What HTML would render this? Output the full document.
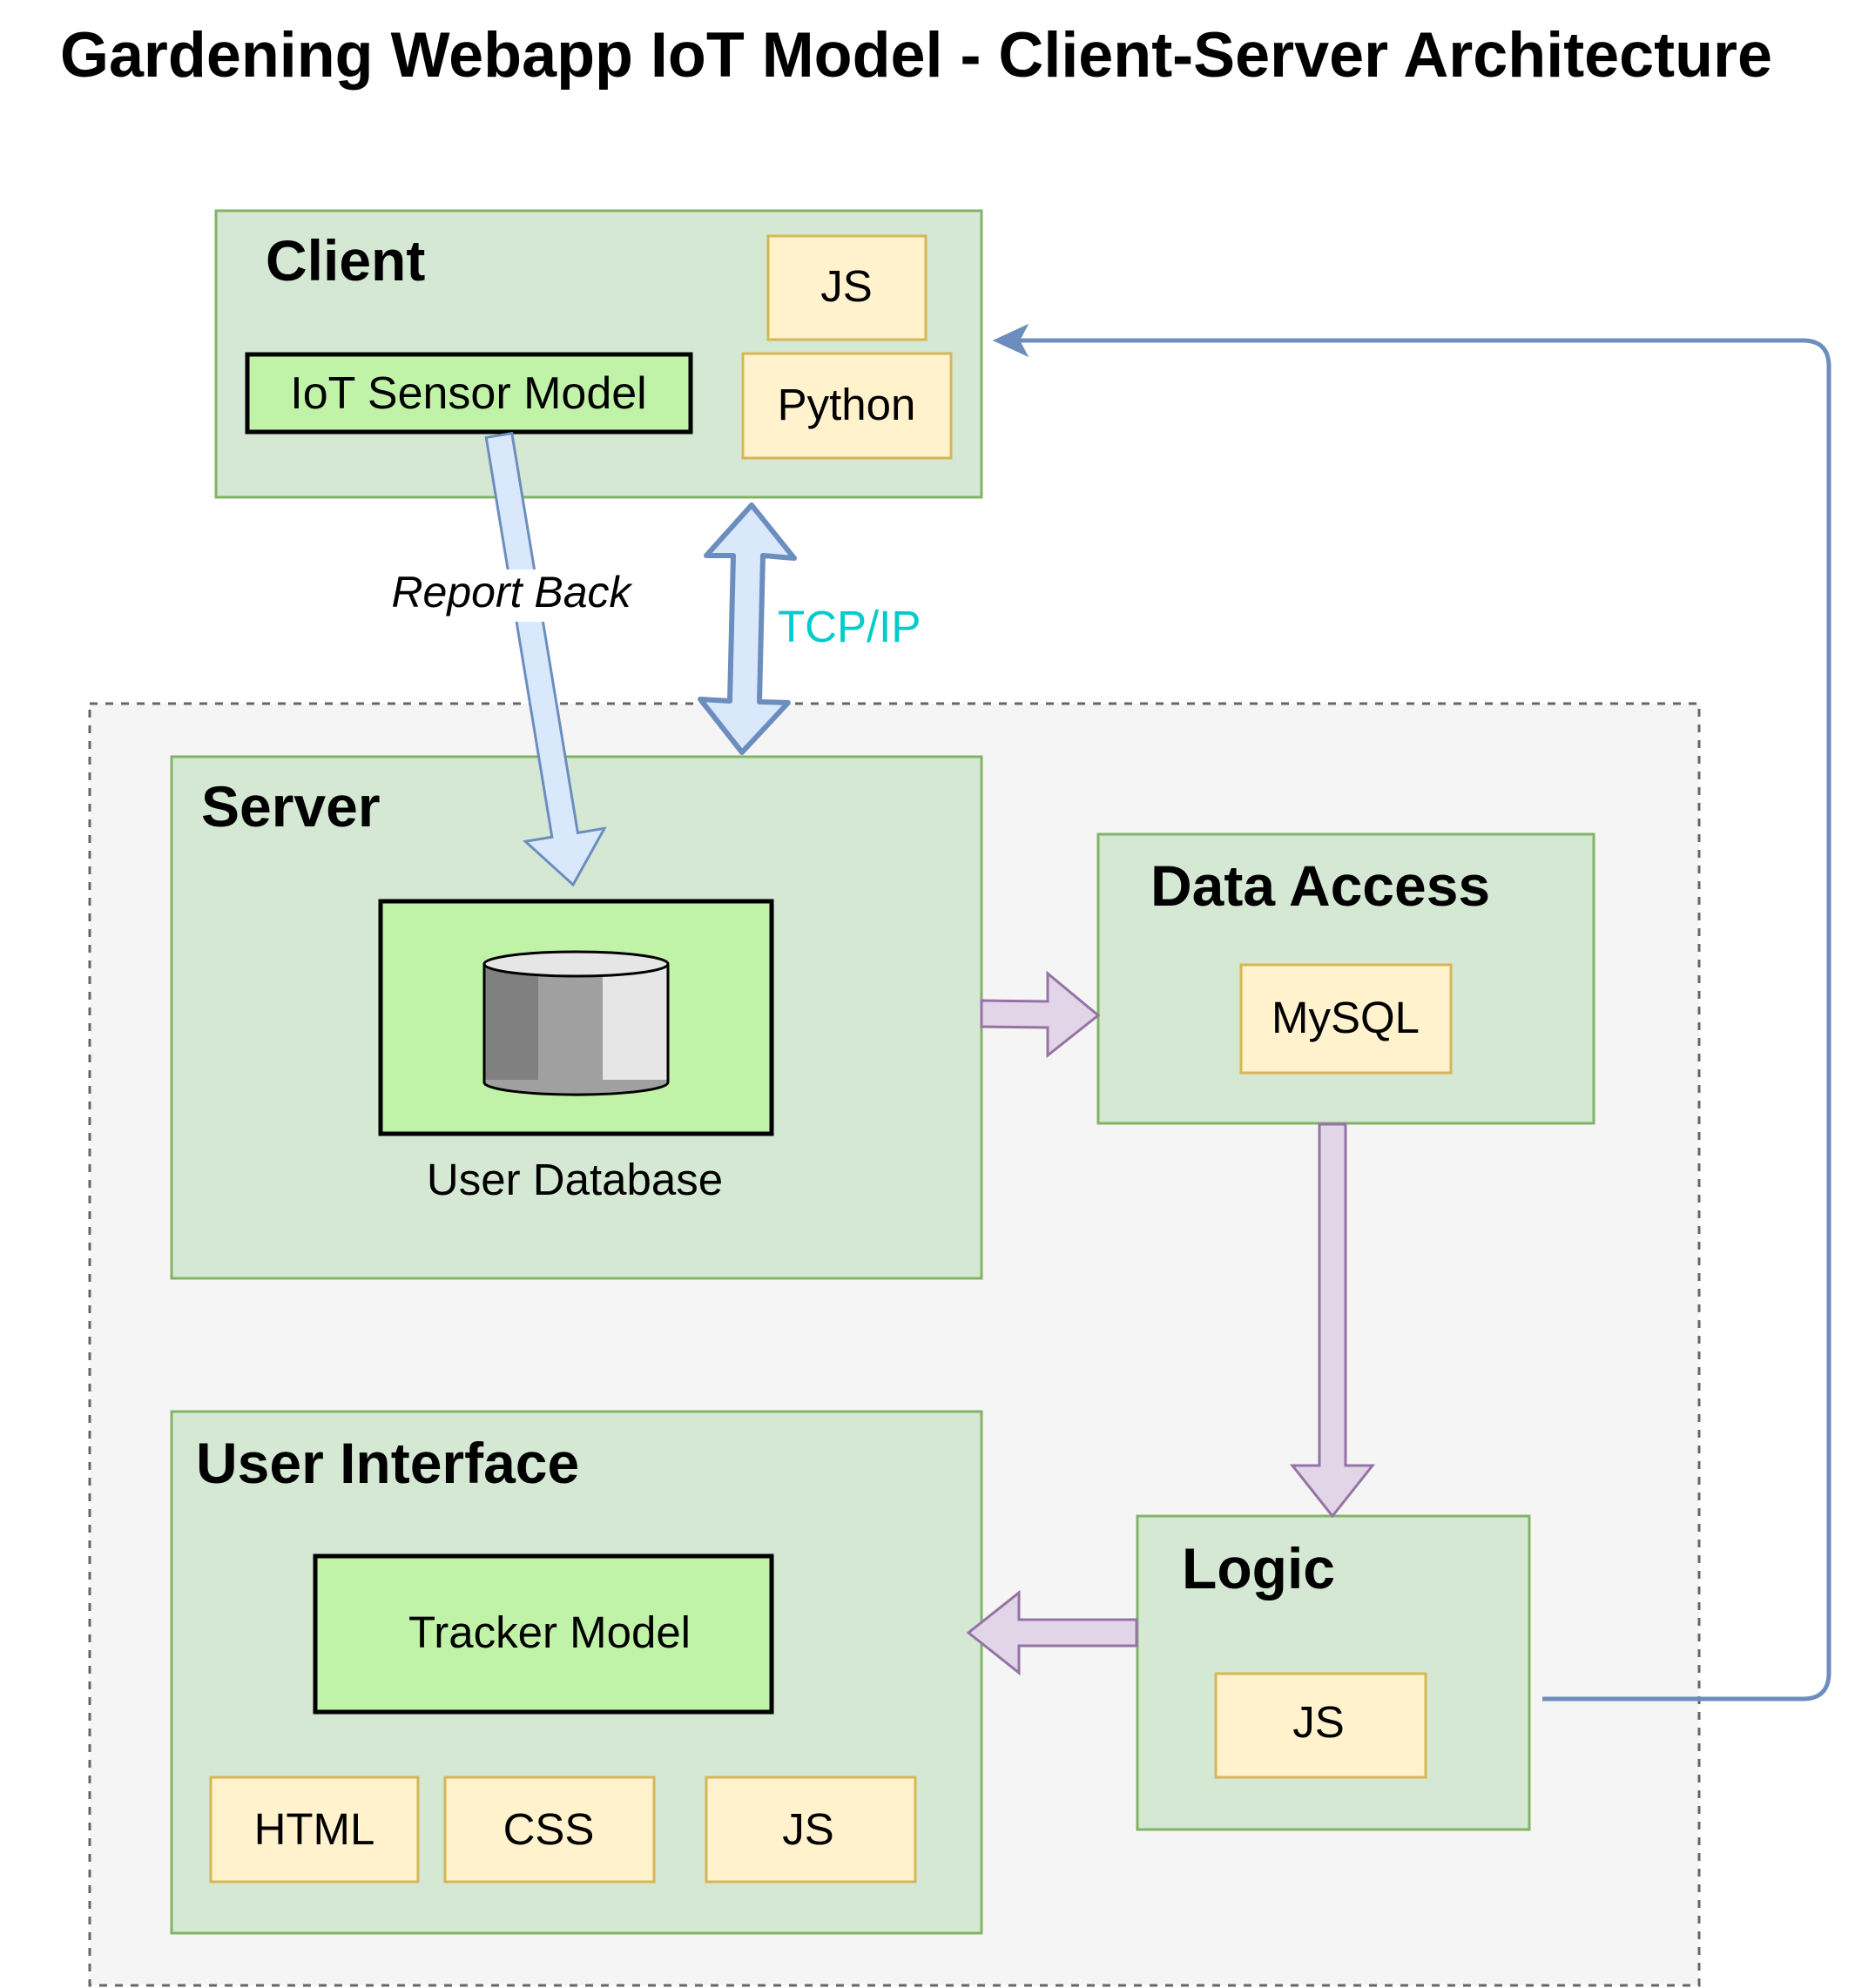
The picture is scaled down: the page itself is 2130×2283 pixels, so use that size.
<!DOCTYPE html>
<html><head><meta charset="utf-8"><style>
html,body{margin:0;padding:0;background:#fff;}
svg{display:block;font-family:"Liberation Sans",Arial,sans-serif;}
</style></head><body>
<svg width="2130" height="2283" viewBox="0 0 2130 2283" xmlns="http://www.w3.org/2000/svg">
<rect width="2130" height="2283" fill="#fff"/>
<text x="69" y="88" font-size="73" font-weight="bold" textLength="1966" lengthAdjust="spacingAndGlyphs">Gardening Webapp IoT Model - Client-Server Architecture</text>

<rect x="103" y="808" width="1848" height="1472" fill="#f5f5f5" stroke="#666" stroke-width="3" stroke-dasharray="9,9"/>

<rect x="248" y="242" width="879" height="329" fill="#d5e8d4" stroke="#82b366" stroke-width="3"/>
<text x="305" y="322" font-size="66" font-weight="bold">Client</text>
<rect x="882" y="271" width="181" height="119" fill="#fff2cc" stroke="#d6b656" stroke-width="3"/>
<text x="972" y="346" font-size="51" text-anchor="middle">JS</text>
<rect x="853" y="406" width="239" height="120" fill="#fff2cc" stroke="#d6b656" stroke-width="3"/>
<text x="972" y="482" font-size="51" text-anchor="middle">Python</text>
<rect x="284" y="407" width="509" height="89" fill="#c0f2a7" stroke="#000" stroke-width="5"/>
<text x="538" y="469" font-size="52" text-anchor="middle">IoT Sensor Model</text>

<rect x="197" y="869" width="930" height="599" fill="#d5e8d4" stroke="#82b366" stroke-width="3"/>
<text x="231" y="949" font-size="66" font-weight="bold">Server</text>
<rect x="437" y="1035" width="449" height="267" fill="#c0f2a7" stroke="#000" stroke-width="5"/>
<rect x="556" y="1107" width="62" height="140" fill="#808080"/>
<rect x="618" y="1107" width="74" height="140" fill="#a0a0a0"/>
<rect x="692" y="1107" width="75" height="140" fill="#e6e6e6"/>
<path d="M556 1243 A105 14 0 0 0 767 1243 L767 1240 L556 1240 Z" fill="#a0a0a0"/>
<path d="M556 1107 L556 1243 A105 14 0 0 0 767 1243 L767 1107" fill="none" stroke="#000" stroke-width="3"/>
<ellipse cx="661.5" cy="1107" rx="105.5" ry="14" fill="#e6e6e6" stroke="#000" stroke-width="3"/>
<text x="660" y="1372" font-size="51" text-anchor="middle">User Database</text>

<rect x="1261" y="958" width="569" height="332" fill="#d5e8d4" stroke="#82b366" stroke-width="3"/>
<text x="1321" y="1040" font-size="66" font-weight="bold">Data Access</text>
<rect x="1425" y="1108" width="241" height="124" fill="#fff2cc" stroke="#d6b656" stroke-width="3"/>
<text x="1545" y="1186" font-size="51" text-anchor="middle">MySQL</text>

<rect x="197" y="1621" width="930" height="599" fill="#d5e8d4" stroke="#82b366" stroke-width="3"/>
<text x="225" y="1703" font-size="66" font-weight="bold">User Interface</text>
<rect x="362" y="1787" width="524" height="179" fill="#c0f2a7" stroke="#000" stroke-width="5"/>
<text x="631" y="1892" font-size="51" text-anchor="middle">Tracker Model</text>
<rect x="242" y="2041" width="238" height="120" fill="#fff2cc" stroke="#d6b656" stroke-width="3"/>
<text x="361" y="2118" font-size="51" text-anchor="middle">HTML</text>
<rect x="511" y="2041" width="240" height="120" fill="#fff2cc" stroke="#d6b656" stroke-width="3"/>
<text x="630" y="2118" font-size="51" text-anchor="middle">CSS</text>
<rect x="811" y="2041" width="240" height="120" fill="#fff2cc" stroke="#d6b656" stroke-width="3"/>
<text x="928" y="2118" font-size="51" text-anchor="middle">JS</text>

<rect x="1306" y="1741" width="450" height="360" fill="#d5e8d4" stroke="#82b366" stroke-width="3"/>
<text x="1357" y="1824" font-size="66" font-weight="bold">Logic</text>
<rect x="1396" y="1922" width="241" height="119" fill="#fff2cc" stroke="#d6b656" stroke-width="3"/>
<text x="1514" y="1995" font-size="51" text-anchor="middle">JS</text>

<g transform="translate(573,500) rotate(80.64)">
<polygon points="0,-15 465,-15 465,-46 523,0 465,46 465,15 0,15" fill="#dae8fc" stroke="#6c8ebf" stroke-width="3"/>
</g>
<rect x="440" y="654" width="300" height="60" fill="#fff"/>
<text x="587" y="697" font-size="50" font-style="italic" text-anchor="middle">Report Back</text>

<polygon points="863,580 912,641 876,638 872,806 905,807 852,864 804,803 838,805 842,638 811,638" fill="#dae8fc" stroke="#6c8ebf" stroke-width="6" stroke-linejoin="round"/>
<text x="893" y="737" font-size="51" fill="#00cccc">TCP/IP</text>

<polygon points="1127,1149 1203,1150 1203,1118 1261,1166 1203,1212 1203,1180 1127,1179" fill="#e1d5e7" stroke="#9673a6" stroke-width="3"/>
<polygon points="1515,1291 1545,1291 1545,1683 1576,1683 1530,1741 1484,1683 1515,1683" fill="#e1d5e7" stroke="#9673a6" stroke-width="3"/>
<polygon points="1305,1860 1170,1860 1170,1829 1112,1875 1170,1921 1170,1890 1305,1890" fill="#e1d5e7" stroke="#9673a6" stroke-width="3"/>

<path d="M1771 1951 L2070 1951 Q2100 1951 2100 1921 L2100 421 Q2100 391 2070 391 L1170 391" fill="none" stroke="#6c8ebf" stroke-width="5"/>
<polygon points="1142,391 1179,374 1170,391 1179,408" fill="#6c8ebf" stroke="#6c8ebf" stroke-width="2"/>
</svg>
</body></html>
